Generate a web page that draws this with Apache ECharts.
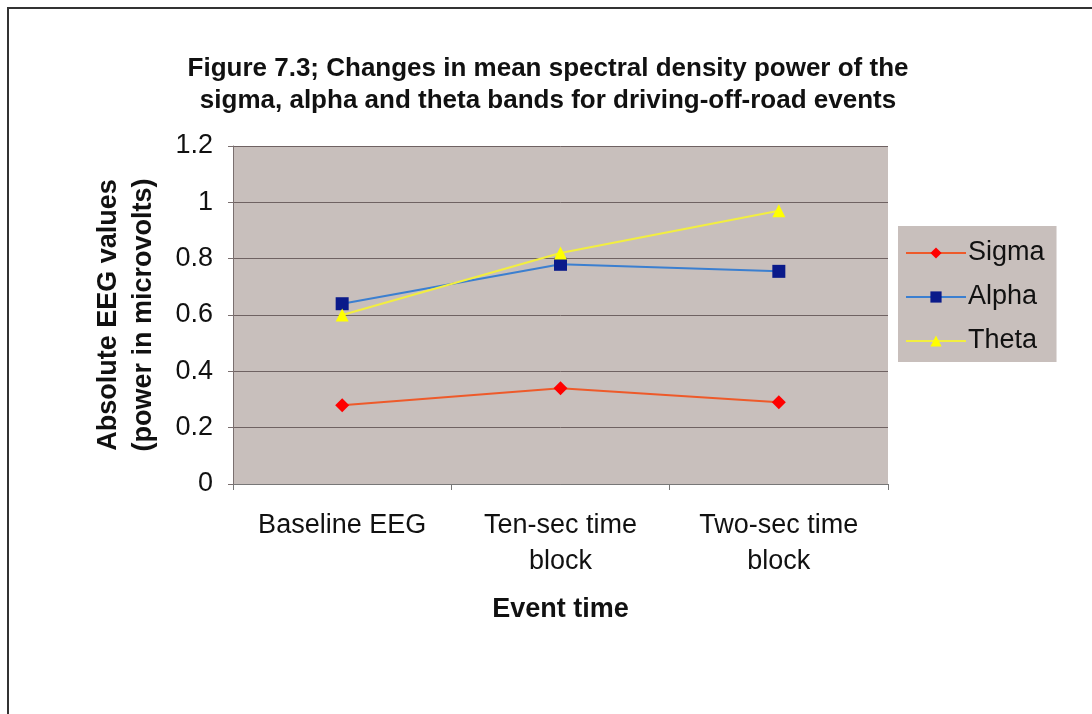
<!DOCTYPE html>
<html><head><meta charset="utf-8">
<script src="https://cdn.jsdelivr.net/npm/echarts@6/dist/echarts.min.js"></script>
<style>html,body{margin:0;padding:0;background:#fff}#c{width:1092px;height:714px}</style>
</head><body><div id="c"></div>
<script>
var categories = ['Baseline EEG', 'Ten-sec time\nblock', 'Two-sec time\nblock'];
var sigma = [0.28, 0.34, 0.29];
var alpha = [0.64, 0.78, 0.755];
var theta = [0.60, 0.82, 0.97];
var yTicks = [0, 0.2, 0.4, 0.6, 0.8, 1, 1.2];

var chart = echarts.init(document.getElementById('c'), null, {renderer: 'canvas'});
var F = "'Liberation Sans', Arial, sans-serif";
chart.setOption({
  animation: false,
  backgroundColor: '#fff',
  graphic: [{
    type: 'rect', shape: {x: 8, y: 8, width: 1200, height: 800},
    style: {fill: 'none', stroke: '#333', lineWidth: 2}, z: -1
  }],
  title: {
    text: 'Figure 7.3; Changes in mean spectral density power of the\nsigma, alpha and theta bands for driving-off-road events',
    left: 543, top: 48, textAlign: 'center',
    textStyle: {fontFamily: F, fontWeight: 'bold', fontSize: 26, lineHeight: 32, color: '#111'}
  },
  legend: {
    orient: 'vertical', left: 898, top: 226,
    padding: [12, 12, 6, 7],
    itemGap: 14, itemWidth: 60, itemHeight: 14,
    backgroundColor: '#c8bfbc', borderColor: '#c8bfbc',
    textStyle: {fontFamily: F, fontSize: 27, lineHeight: 30, color: '#111', padding: [0, 0, 0, -3]},
    data: ['Sigma', 'Alpha', 'Theta']
  },
  grid: {left: 233, right: 204, top: 146, bottom: 230, show: true, backgroundColor: '#c8bfbc', borderWidth: 0},
  xAxis: {
    type: 'category', data: categories, boundaryGap: true,
    name: 'Event time', nameLocation: 'middle', nameGap: 112,
    nameTextStyle: {fontFamily: F, fontWeight: 'bold', fontSize: 27, color: '#111'},
    axisLine: {lineStyle: {color: '#777', width: 1}},
    axisTick: {show: true, length: 6, lineStyle: {color: '#777'}},
    axisLabel: {fontFamily: F, fontSize: 27, color: '#111', margin: 24, lineHeight: 36, interval: 0}
  },
  yAxis: {
    type: 'value', min: 0, max: 1.2, interval: 0.2,
    name: 'Absolute EEG values\n(power in microvolts)', nameLocation: 'middle', nameGap: 72,
    nameTextStyle: {fontFamily: F, fontWeight: 'bold', fontSize: 27, color: '#111', lineHeight: 35},
    axisLine: {show: true, lineStyle: {color: '#7a6f6f'}},
    axisTick: {show: true, length: 5, lineStyle: {color: '#7a6f6f'}},
    axisLabel: {fontFamily: F, fontSize: 27, color: '#111', margin: 20,
      formatter: function (v) { return yTicks.indexOf(Math.round(v * 10) / 10) >= 0 ? String(Math.round(v * 10) / 10) : ''; }},
    splitLine: {show: true, lineStyle: {color: '#6f6262', width: 1}}
  },
  series: [
    {name: 'Sigma', type: 'line', data: sigma, symbol: 'diamond', symbolSize: 14,
      lineStyle: {color: '#ee5a2a', width: 2}, itemStyle: {color: '#ff0000'}},
    {name: 'Alpha', type: 'line', data: alpha, symbol: 'rect', symbolSize: 13,
      lineStyle: {color: '#3b7fd0', width: 2}, itemStyle: {color: '#0a1a8a'}},
    {name: 'Theta', type: 'line', data: theta, symbol: 'triangle', symbolSize: 13,
      lineStyle: {color: '#f2ee40', width: 2}, itemStyle: {color: '#ffff00'}}
  ]
});
</script></body></html>
